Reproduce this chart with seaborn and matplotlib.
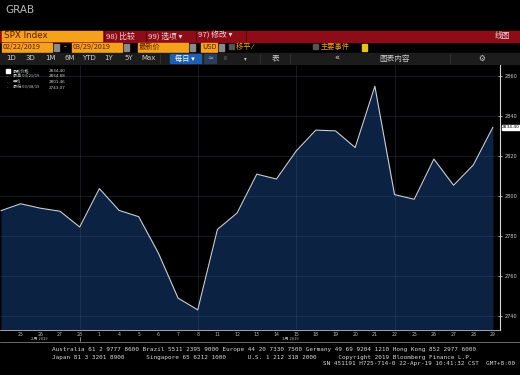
import matplotlib
matplotlib.use("Agg")
import matplotlib.pyplot as plt
import seaborn as sns
import pandas as pd
from matplotlib.patches import Rectangle

# SPX daily closes, 22 Feb - 29 Mar 2019
day_labels = ["22", "25", "26", "27", "28", "1", "4", "5", "6", "7", "8", "11", "12",
              "13", "14", "15", "18", "19", "20", "21", "22", "25", "26", "27", "28", "29"]
closes = [2792.67, 2796.11, 2793.90, 2792.38, 2784.49, 2803.69, 2792.81, 2789.65,
          2771.45, 2748.93, 2743.07, 2783.30, 2791.52, 2810.92, 2808.48, 2822.48,
          2832.94, 2832.57, 2824.23, 2854.88, 2800.71, 2798.36, 2818.46, 2805.37,
          2815.44, 2834.40]
y_ticks = [2740, 2760, 2780, 2800, 2820, 2840, 2860]
week_lines = [4, 10, 15, 20]
month_labels = ["2月 2019", "3月 2019"]
month_pos = [1.95, 14.7]
legend_rows = [("最新价格", "2834.40"), ("最高 03/21/19", "2854.88"),
               ("平均", "2801.46"), ("最低 03/08/19", "2743.07")]
periods = ["1D", "3D", "1M", "6M", "YTD", "1Y", "5Y", "Max"]

df = pd.DataFrame({"idx": range(len(closes)), "close": closes})

sns.set_style("dark")
plt.rcParams["font.family"] = ["DejaVu Sans", "Noto Sans CJK SC"]

W, H = 520, 375
fig = plt.figure(figsize=(W / 100, H / 100), dpi=100, facecolor="black")

# background / chrome layer in pixel coordinates
bg = fig.add_axes([0, 0, 1, 1], zorder=0)
bg.set_xlim(0, W)
bg.set_ylim(H, 0)
bg.axis("off")
bg.add_patch(Rectangle((0, 0), W, H, color="black"))

bg.text(5, 10, "GRAB", color="#b8b8b8", fontsize=7.5, va="center", ha="left")

orange = "#f5a21b"
red = "#8e0c18"
cjk = ["Noto Sans CJK SC", "DejaVu Sans"]

# top red bar
bg.add_patch(Rectangle((0, 30.5), W, 11, color=red))
bg.add_patch(Rectangle((2, 31), 100, 10, color=orange))
bg.text(4, 36, "SPX Index", color="#5a1a00", fontsize=6.3, va="center")
for x0, txt in [(106, "98) 比较"), (148, "99) 选项 ▾"), (198, "97) 修改 ▾")]:
    bg.text(x0, 36, txt, color="#f0dada", fontsize=5.6, va="center", family=cjk)
for xs in [104, 146, 196, 246]:
    bg.plot([xs, xs], [31, 41], color="#5a0008", lw=0.8)
bg.text(502, 36, "线图", color="#f0dada", fontsize=5.6, va="center", ha="center", family=cjk)

# date / field row
for x0, w, txt in [(2, 50, "02/22/2019"), (72, 50, "03/29/2019"), (138, 50, "最新价"),
                   (201, 16, "USD")]:
    bg.add_patch(Rectangle((x0, 42.5), w, 9, color=orange))
    bg.text(x0 + 1, 47, txt, color="#5a1a00", fontsize=5.2, va="center", family=cjk)
for x0 in [54, 124, 190, 219]:
    bg.add_patch(Rectangle((x0, 43.5), 5, 7, color="#8a8a8a"))
bg.text(64, 47, "-", color=orange, fontsize=5.5, va="center")
bg.add_patch(Rectangle((229, 44), 5, 5, color="#555555"))
bg.text(236, 47, "移平 ⁄", color=orange, fontsize=5.2, va="center", family=cjk)
bg.add_patch(Rectangle((313, 44), 5, 5, color="#555555"))
bg.text(321, 47, "主要事件", color=orange, fontsize=5.2, va="center", family=cjk)
bg.add_patch(Rectangle((362, 43.5), 5, 7, color="#e8c020"))

# period button row
bg.add_patch(Rectangle((0, 53), W, 11, color="#1c1c1c"))
for i, p in enumerate(periods):
    bg.text(11 + i * 19.6, 58.5, p, color="#d0d0d0", fontsize=5.0, va="center", ha="center")
bg.add_patch(Rectangle((170, 54), 31, 9, color="#1f5fb0"))
bg.text(185, 58.5, "每日 ▾", color="white", fontsize=5.2, va="center", ha="center", family=cjk)
bg.add_patch(Rectangle((204, 54), 12, 9, color="#2a3e5a"))
bg.text(210, 58.5, "≃", color="#7fb0ff", fontsize=5.2, va="center", ha="center")
bg.text(225, 58.5, "⁞⁞", color="#c0c0c0", fontsize=4.5, va="center", ha="center")
bg.text(245, 58.5, "▾", color="#c0c0c0", fontsize=4, va="center", ha="center")
bg.text(276, 58.5, "表", color="#d0d0d0", fontsize=5.5, va="center", ha="center", family=cjk)
bg.text(337, 58.5, "«", color="#d0d0d0", fontsize=6, va="center", ha="center")
bg.text(395, 58.5, "图表内容", color="#d0d0d0", fontsize=5.5, va="center", ha="center", family=cjk)
bg.text(482, 58.5, "⚙", color="#d0d0d0", fontsize=5.5, va="center", ha="center")
for xs in [160, 260, 290, 450]:
    bg.plot([xs, xs], [54, 63], color="#333333", lw=0.6)

# separators and footer
bg.plot([0, W], [342, 342], color="#6a6a6a", lw=0.7)
mono = "DejaVu Sans Mono"
bg.text(52, 350, "Australia 61 2 9777 8600 Brazil 5511 2395 9000 Europe 44 20 7330 7500 "
        "Germany 49 69 9204 1210 Hong Kong 852 2977 6000",
        color="#d8d8d8", fontsize=4.3, family=mono, va="center")
bg.text(52, 357, "Japan 81 3 3201 8900      Singapore 65 6212 1000      U.S. 1 212 318 2000"
        "      Copyright 2019 Bloomberg Finance L.P.",
        color="#d8d8d8", fontsize=4.3, family=mono, va="center")
bg.text(515, 364, "SN 451191 H725-714-0 22-Apr-19 10:41:32 CST  GMT+8:00",
        color="#d8d8d8", fontsize=4.3, family=mono, va="center", ha="right")

# main chart axes: x 0..500 px, y 65..330 px
left, right, top, bottom = 0, 500, 65, 330
ax = fig.add_axes([left / W, 1 - bottom / H, (right - left) / W, (bottom - top) / H], zorder=1)
ax.set_facecolor("black")
ymin, ymax = 2733, 2865.5
ax.fill_between(df["idx"], df["close"], ymin, color="#0b2242", lw=0, zorder=1)
sns.lineplot(data=df, x="idx", y="close", ax=ax, color="#c9ced8", lw=0.8, zorder=3)
ax.set_xlim(-0.05, 25.36)
ax.set_ylim(ymin, ymax)

for yv in y_ticks:
    ax.axhline(yv, color="#3c5574", lw=0.5, alpha=0.45, zorder=2)
for xv in week_lines:
    ax.axvline(xv, color="#3c5574", lw=0.5, alpha=0.45, zorder=2)

ax.grid(False)
ax.set_xlabel("")
ax.set_ylabel("")
for s in ["top", "left"]:
    ax.spines[s].set_visible(False)
ax.spines["right"].set_color("#d8d8d8")
ax.spines["right"].set_linewidth(0.8)
ax.spines["bottom"].set_color("#bbbbbb")
ax.spines["bottom"].set_linewidth(0.6)

ax.set_xticks(range(1, len(day_labels)))
ax.set_xticklabels(day_labels[1:])
ax.tick_params(axis="x", colors="#bcbcbc", labelsize=3.3, length=1.2, width=0.5, pad=0.5)
ax.yaxis.tick_right()
ax.set_yticks(y_ticks)
ax.set_yticklabels([str(v) for v in y_ticks])
ax.tick_params(axis="y", colors="#d0d0d0", labelsize=3.6, length=2.5, width=0.6,
               direction="inout", pad=2)

for lbl, xp in zip(month_labels, month_pos):
    ax.annotate(lbl, xy=(xp, 0), xycoords=ax.get_xaxis_transform(),
                xytext=(0, -5.2), textcoords="offset points", color="#bcbcbc",
                fontsize=3.0, ha="center", va="top", family=cjk, annotation_clip=False)
ax.plot([4, 4], [-0.025, -0.04], transform=ax.get_xaxis_transform(), color="#bcbcbc",
        lw=0.5, clip_on=False)

# last value tag on right axis
ax.annotate(f"{closes[-1]:.2f}", xy=(1.0, closes[-1]), xycoords=("axes fraction", "data"),
            xytext=(1.5, 0), textcoords="offset points", fontsize=3.2, color="black",
            va="center", ha="left", annotation_clip=False,
            bbox=dict(boxstyle="square,pad=0.12", fc="white", ec="white"))

# tiny legend block
for i, (name, val) in enumerate(legend_rows):
    yy = 0.978 - i * 0.021
    if i == 0:
        ax.add_patch(Rectangle((0.012, yy - 0.008), 0.008, 0.016, transform=ax.transAxes,
                               color="white"))
    else:
        ax.text(0.016, yy, "-", transform=ax.transAxes, color="#cccccc", fontsize=3,
                va="center", ha="center")
    ax.text(0.026, yy, name, transform=ax.transAxes, color="#cccccc", fontsize=3,
            va="center", family=cjk)
    ax.text(0.098, yy, val, transform=ax.transAxes, color="#cccccc", fontsize=3,
            va="center")

fig.savefig("out.png", dpi=100, facecolor="black")
